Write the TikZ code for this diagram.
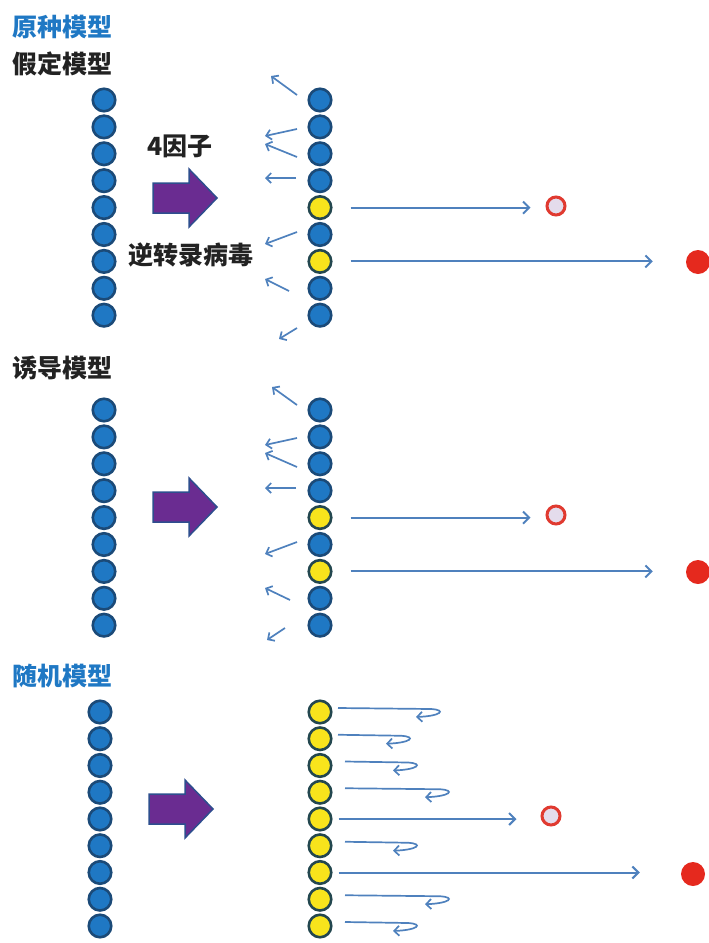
\documentclass[tikz,border=0pt]{standalone}
\usepackage{fontspec}
\newfontfamily\cjk{Noto Sans CJK SC}
\usetikzlibrary{arrows.meta,calc}
\definecolor{ballblue}{HTML}{1F78C4}
\definecolor{ballline}{HTML}{1B4A78}
\definecolor{ballyellow}{HTML}{F8E41C}
\definecolor{yline}{HTML}{23474F}
\definecolor{arrowblue}{HTML}{4F81BD}
\definecolor{bigpurple}{HTML}{6A2C91}
\definecolor{bigline}{HTML}{2E4E8E}
\definecolor{ringred}{HTML}{E03A30}
\definecolor{ringfill}{HTML}{E4DCEC}
\definecolor{dotred}{HTML}{E5291E}
\definecolor{titleblue}{HTML}{1F78C4}
\definecolor{textdark}{HTML}{222222}
\begin{document}
\begin{tikzpicture}[x=1pt,y=-1pt,
 ball/.style={circle,inner sep=0pt,minimum size=22.5pt,line width=2.6pt},
 bball/.style={ball,fill=ballblue,draw=ballline},
 yball/.style={ball,fill=ballyellow,draw=yline},
 ring/.style={circle,inner sep=0pt,minimum size=18pt,line width=3pt,draw=ringred,fill=ringfill},
 reddot/.style={circle,inner sep=0pt,minimum size=24pt,fill=dotred},
 longarrow/.style={draw=arrowblue,line width=2pt,-{Straight Barb[length=6pt,width=12pt]}},
 smallarrow/.style={draw=arrowblue,line width=1.7pt,-{Straight Barb[length=5pt,width=10pt]}},
 bigarrow/.style={fill=bigpurple,draw=bigline,line width=1.5pt,line join=miter},
 lbl/.style={font=\cjk\bfseries\fontsize{25}{30}\selectfont,inner sep=0pt,text=textdark},
]
\useasboundingbox (0,0) rectangle (709,943);

% ---------- titles and labels ----------
\node[lbl,anchor=west,text=titleblue] (t1) at (12,27) {原种模型};
\node[lbl,anchor=west] (t2) at (12,64) {假定模型};
\node[lbl] (f4) at (180,146) {4因子};
\node[lbl] (rv) at (191,255) {逆转录病毒};
\node[lbl,anchor=west] (t3) at (12,368) {诱导模型};
\node[lbl,anchor=west,text=titleblue] (t4) at (12,676) {随机模型};

% ---------- big purple arrows ----------
\foreach \yc/\xs in {198/153, 507/153, 809/149}{
  \draw[bigarrow] (\xs,\yc-15) -- ++(36,0) -- ++(0,-14) -- ++(28,29)
     -- ++(-28,29) -- ++(0,-14) -- ++(-36,0) -- cycle;
}

% ---------- panel 1 ----------
\foreach \i in {1,...,9}
  \node[bball] (a\i) at (104,{100+26.9*(\i-1)}) {};
\foreach \i/\s in {1/bball,2/bball,3/bball,4/bball,5/yball,6/bball,7/yball,8/bball,9/bball}
  \node[\s] (b\i) at (320,{100+26.9*(\i-1)}) {};
\node[ring] (o1) at (556,206) {};
\node[reddot] (d1) at (698,262) {};
\draw[longarrow,shorten <=18pt,shorten >=15pt] (b5.east) -- (b5.east -| o1.west);
\draw[longarrow,shorten <=18pt,shorten >=33pt] (b7.east) -- (b7.east -| d1.west);
\foreach \n/\xa/\ya/\xb/\yb in {
  pa/297/95/271/76, pb/297/129/265/136, pc/297/157/265/144, pd/296/178/265/178,
  pe/297/232/265/244, pf/289/291/265/279, pg/297/328/279/339}{
  \coordinate (s\n) at (\xa,\ya);
  \coordinate (e\n) at (\xb,\yb);
  \draw[smallarrow] (s\n) -- (e\n);
}

% ---------- panel 2 ----------
\foreach \i in {1,...,9}
  \node[bball] (g\i) at (104,{410+26.9*(\i-1)}) {};
\foreach \i/\s in {1/bball,2/bball,3/bball,4/bball,5/yball,6/bball,7/yball,8/bball,9/bball}
  \node[\s] (h\i) at (320,{410+26.9*(\i-1)}) {};
\node[ring] (o2) at (556,515) {};
\node[reddot] (d2) at (698,572) {};
\draw[longarrow,shorten <=18pt,shorten >=15pt] (h5.east) -- (h5.east -| o2.west);
\draw[longarrow,shorten <=18pt,shorten >=33pt] (h7.east) -- (h7.east -| d2.west);
\foreach \n/\xa/\ya/\xb/\yb in {
  qa/297/405/272/387, qb/297/438/265/445, qc/297/467/265/453, qd/296/488/265/488,
  qe/297/542/265/554, qf/290/600/265/588, qg/285/628/267/640}{
  \coordinate (s\n) at (\xa,\ya);
  \coordinate (e\n) at (\xb,\yb);
  \draw[smallarrow] (s\n) -- (e\n);
}

% ---------- panel 3 ----------
\foreach \i in {1,...,9}
  \node[bball] (k\i) at (100,{712+26.75*(\i-1)}) {};
\foreach \i in {1,...,9}
  \node[yball] (c\i) at (320,{712+26.75*(\i-1)}) {};
\node[ring] (o3) at (551,816) {};
\node[reddot] (d3) at (693,874) {};
\draw[longarrow,shorten <=6pt,shorten >=24pt] (c5.east) -- (c5.east -| o3.west);
\draw[longarrow,shorten <=6pt,shorten >=41pt] (c7.east) -- (c7.east -| d3.west);
\foreach \i/\sx/\xe in {1/338/443, 2/338/413, 3/345/420, 4/345/452, 6/345/420, 8/345/452, 9/345/420}{
  \draw[smallarrow] ($(c\i.center)+(\sx-320,-4)$) -- ($(c\i.center)+(\xe-332,-3)$)
     .. controls ($(c\i.center)+(\xe-316,-2)$) and ($(c\i.center)+(\xe-322,4)$)
     .. ($(c\i.center)+(\xe-347,5)$);
}
\end{tikzpicture}
\end{document}
